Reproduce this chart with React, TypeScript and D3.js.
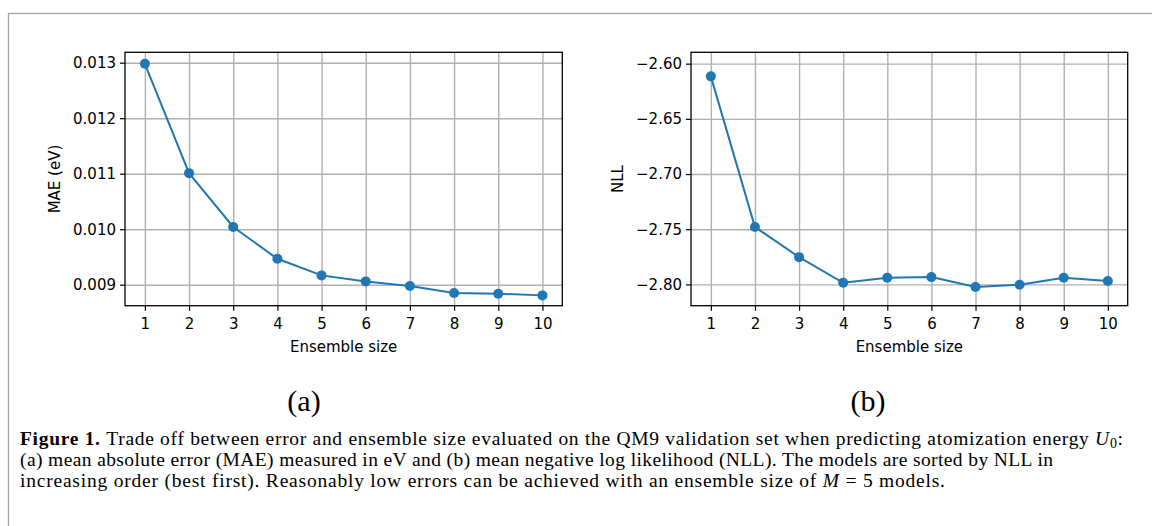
import React, { useRef, useEffect } from 'react';
import * as d3 from 'd3';

// data
const ensembleSizes = [1, 2, 3, 4, 5, 6, 7, 8, 9, 10];
const maeValues = [0.01298, 0.01101, 0.01004, 0.009467, 0.009168, 0.00906, 0.008976, 0.00885, 0.008838, 0.008808];
const nllValues = [-2.6115, -2.748, -2.7753, -2.7985, -2.794, -2.7934, -2.8024, -2.8003, -2.794, -2.797];

const maeTicks = [0.009, 0.010, 0.011, 0.012, 0.013];
const nllTicks = [-2.80, -2.75, -2.70, -2.65, -2.60];
const maeDomain = [0.008622, 0.013187];
const nllDomain = [-2.8193, -2.5897];

const captionLines = [
  'Trade off between error and ensemble size evaluated on the QM9 validation set when predicting atomization energy ',
  '(a) mean absolute error (MAE) measured in eV and (b) mean negative log likelihood (NLL). The models are sorted by NLL in',
  'increasing order (best first). Reasonably low errors can be achieved with an ensemble size of ',
];

const BLUE = '#1f77b4';
const FONT = 'DejaVu Sans, sans-serif';
const SERIF = 'Liberation Serif, serif';

function drawPanel(svg, box, values, yDomain, yTicks, yFormat, yLabel, yLabelX) {
  const x = d3.scaleLinear().domain([0.55, 10.45]).range([box.x0, box.x1]);
  const y = d3.scaleLinear().domain(yDomain).range([box.y1, box.y0]);
  const g = svg.append('g');

  // Gridlines
  g.append('g')
    .attr('transform', `translate(0,${box.y1})`)
    .call(d3.axisBottom(x).tickValues(ensembleSizes).tickSize(-(box.y1 - box.y0)).tickFormat(() => ''))
    .call(s => s.select('.domain').remove())
    .selectAll('line').attr('stroke', '#b0b0b0').attr('stroke-width', 1.4);
  g.append('g')
    .attr('transform', `translate(${box.x0},0)`)
    .call(d3.axisLeft(y).tickValues(yTicks).tickSize(-(box.x1 - box.x0)).tickFormat(() => ''))
    .call(s => s.select('.domain').remove())
    .selectAll('line').attr('stroke', '#b0b0b0').attr('stroke-width', 1.4);

  // Line + markers
  const line = d3.line().x((d, i) => x(ensembleSizes[i])).y(d => y(d));
  g.append('path')
    .datum(values)
    .attr('d', line)
    .attr('fill', 'none')
    .attr('stroke', BLUE)
    .attr('stroke-width', 2);
  g.selectAll('circle.pt')
    .data(values)
    .enter()
    .append('circle')
    .attr('class', 'pt')
    .attr('cx', (d, i) => x(ensembleSizes[i]))
    .attr('cy', d => y(d))
    .attr('r', 5)
    .attr('fill', BLUE);

  // Axes
  const xAxis = g.append('g')
    .attr('transform', `translate(0,${box.y1})`)
    .call(d3.axisBottom(x).tickValues(ensembleSizes).tickSize(5).tickPadding(8).tickFormat(d3.format('d')));
  const yAxis = g.append('g')
    .attr('transform', `translate(${box.x0},0)`)
    .call(d3.axisLeft(y).tickValues(yTicks).tickSize(5).tickPadding(4).tickFormat(yFormat));
  [xAxis, yAxis].forEach(a => {
    a.select('.domain').remove();
    a.selectAll('line').attr('stroke', '#000').attr('stroke-width', 1.2);
    a.selectAll('text').attr('font-family', FONT).attr('font-size', 15).attr('fill', '#000');
  });

  // Frame
  g.append('rect')
    .attr('x', box.x0).attr('y', box.y0)
    .attr('width', box.x1 - box.x0).attr('height', box.y1 - box.y0)
    .attr('fill', 'none').attr('stroke', '#000').attr('stroke-width', 1.3);

  g.append('text')
    .attr('x', (box.x0 + box.x1) / 2).attr('y', 352)
    .attr('text-anchor', 'middle')
    .attr('font-family', FONT).attr('font-size', 15)
    .text('Ensemble size');
  g.append('text')
    .attr('transform', `translate(${yLabelX},${(box.y0 + box.y1) / 2}) rotate(-90)`)
    .attr('text-anchor', 'middle')
    .attr('dy', '0.35em')
    .attr('font-family', FONT).attr('font-size', 15)
    .text(yLabel);
}

export default function App() {
  const ref = useRef(null);

  useEffect(() => {
    const svg = d3.select(ref.current);
    svg.selectAll('*').remove();

    // outer figure frame
    svg.append('rect')
      .attr('x', 8.5).attr('y', 13.5).attr('width', 1200).attr('height', 600)
      .attr('fill', 'none').attr('stroke', '#a6a6a6').attr('stroke-width', 1.3);

    drawPanel(svg, { x0: 125, x1: 562.3, y0: 52.3, y1: 305.7 }, maeValues, maeDomain, maeTicks,
      d3.format('.3f'), 'MAE (eV)', 55);
    drawPanel(svg, { x0: 691, x1: 1127.7, y0: 52.3, y1: 305.7 }, nllValues, nllDomain, nllTicks,
      d3.format('.2f'), 'NLL', 618);

    // subfigure labels
    [['(a)', 304], ['(b)', 868]].forEach(([t, cx]) => {
      svg.append('text')
        .attr('x', cx).attr('y', 411)
        .attr('text-anchor', 'middle')
        .attr('font-family', SERIF).attr('font-size', 30)
        .text(t);
    });

    // caption
    const cap = svg.append('g').attr('font-family', SERIF).attr('font-size', 19.5).attr('fill', '#000');
    const l1 = cap.append('text').attr('x', 20).attr('y', 445).attr('textLength', 1103).attr('lengthAdjust', 'spacing');
    l1.append('tspan').attr('font-weight', 'bold').text('Figure 1. ');
    l1.append('tspan').text(captionLines[0]);
    l1.append('tspan').attr('font-style', 'italic').text('U');
    l1.append('tspan').attr('font-size', 14).attr('dy', 3).text('0');
    l1.append('tspan').attr('dy', -3).text(':');

    cap.append('text').attr('x', 20).attr('y', 466).attr('textLength', 1033).attr('lengthAdjust', 'spacing')
      .text(captionLines[1]);

    const l3 = cap.append('text').attr('x', 20).attr('y', 487).attr('textLength', 925).attr('lengthAdjust', 'spacing');
    l3.append('tspan').text(captionLines[2]);
    l3.append('tspan').attr('font-style', 'italic').text('M');
    l3.append('tspan').text(' = 5 models.');
  }, []);

  return (
    <div style={{ position: 'absolute', left: 0, top: 0, width: 1152, height: 526, overflow: 'hidden', background: '#fff' }}>
      <svg ref={ref} width={1152} height={526}></svg>
    </div>
  );
}
